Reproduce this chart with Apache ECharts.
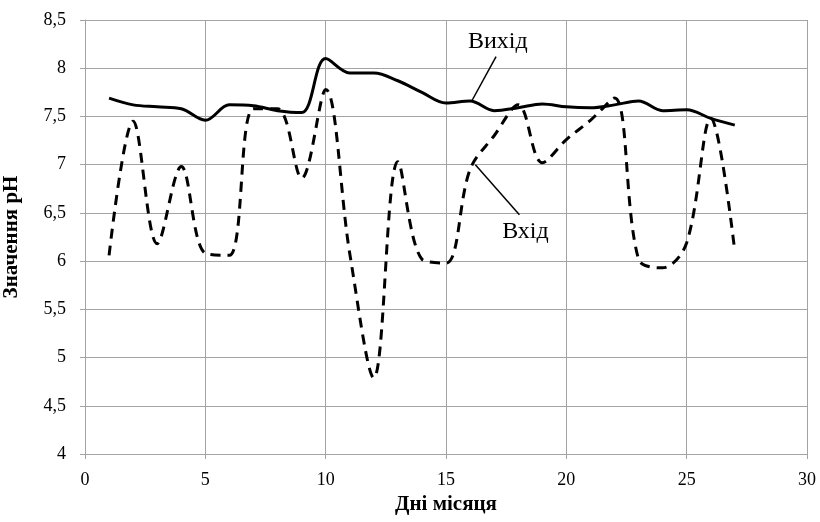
<!DOCTYPE html>
<html>
<head>
<meta charset="utf-8">
<script src="https://cdn.jsdelivr.net/npm/echarts@6/dist/echarts.min.js"></script>
<style>html,body{margin:0;padding:0;background:#fff}#c{width:820px;height:522px}</style>
</head>
<body>
<div id="c"></div>
<script>
var days = [1,2,3,4,5,6,7,8,9,10,11,12,13,14,15,16,17,18,19,20,21,22,23,24,25,26,27];
var outputPH = [7.69,7.62,7.6,7.58,7.46,7.62,7.61,7.56,7.54,8.1,7.95,7.95,7.87,7.75,7.64,7.66,7.56,7.59,7.63,7.6,7.59,7.62,7.66,7.56,7.57,7.48,7.41];
var inputPH = [6.06,7.45,6.18,6.98,6.08,6.06,7.58,7.58,6.86,7.78,6.08,4.79,7.03,6.02,5.98,6.95,7.3,7.62,7.02,7.26,7.46,7.69,6.02,5.93,6.19,7.48,6.1];
var yTicks = ['4','4,5','5','5,5','6','6,5','7','7,5','8','8,5'];
var outLabel = 'Вихід';
var inLabel = 'Вхід';

function pairs(xs, ys){ return xs.map(function(x,i){ return [x, ys[i]]; }); }

var chart = echarts.init(document.getElementById('c'), null, {renderer:'canvas'});
var gridColor = '#a3a3a3';
var font = 'Liberation Serif';
chart.setOption({
  animation: false,
  backgroundColor: '#fff',
  grid: {left: 85, right: 13, top: 20, bottom: 68, containLabel: false, outerBoundsMode: 'none'},
  xAxis: {
    type: 'value', min: 0, max: 30, interval: 5,
    name: 'Дні місяця', nameLocation: 'middle', nameGap: 34,
    nameTextStyle: {fontFamily: font, fontWeight: 'bold', fontSize: 21, color: '#000'},
    axisLine: {show: true, lineStyle: {color: gridColor, width: 1}},
    axisTick: {show: true, length: 5, lineStyle: {color: gridColor}},
    axisLabel: {fontFamily: font, fontSize: 18, color: '#000', margin: 17},
    splitLine: {show: true, lineStyle: {color: gridColor, width: 1}}
  },
  yAxis: {
    type: 'value', min: 4, max: 8.5, interval: 0.5,
    name: 'Значення pH', nameLocation: 'middle', nameGap: 63,
    nameTextStyle: {fontFamily: font, fontWeight: 'bold', fontSize: 21, color: '#000'},
    axisLine: {show: true, lineStyle: {color: gridColor, width: 1}},
    axisTick: {show: true, length: 5, lineStyle: {color: gridColor}},
    axisLabel: {fontFamily: font, fontSize: 18, color: '#000', margin: 19,
      formatter: function(v){ var i = Math.round((v-4)/0.5); return yTicks[i]; }},
    splitLine: {show: true, lineStyle: {color: gridColor, width: 1}}
  },
  series: [
    {
      name: outLabel, type: 'line', data: pairs(days, outputPH), smooth: 0.35,
      showSymbol: false, symbol: 'none',
      lineStyle: {color: '#000', width: 3},
      z: 3,
      markLine: {
        silent: true, symbol: 'none',
        lineStyle: {color: '#000', width: 1.5, type: 'solid'},
        label: {show: false},
        data: [[{coord: [17.08, 8.12]}, {coord: [16.07, 7.66]}]]
      },
      markPoint: {
        silent: true, symbol: 'circle', symbolSize: 0,
        label: {show: true, formatter: outLabel, fontFamily: font, fontSize: 24, color: '#000', position: 'inside'},
        data: [{coord: [17.15, 8.27]}]
      }
    },
    {
      name: inLabel, type: 'line', data: pairs(days, inputPH), smooth: 0.35,
      showSymbol: false, symbol: 'none',
      lineStyle: {color: '#000', width: 3, type: [10, 7]},
      z: 2,
      markLine: {
        silent: true, symbol: 'none',
        lineStyle: {color: '#000', width: 1.5, type: 'solid'},
        label: {show: false},
        data: [[{coord: [18.05, 6.48]}, {coord: [16.22, 7.0]}]]
      },
      markPoint: {
        silent: true, symbol: 'circle', symbolSize: 0,
        label: {show: true, formatter: inLabel, fontFamily: font, fontSize: 24, color: '#000', position: 'inside'},
        data: [{coord: [18.3, 6.3]}]
      }
    }
  ]
});
</script>
</body>
</html>
